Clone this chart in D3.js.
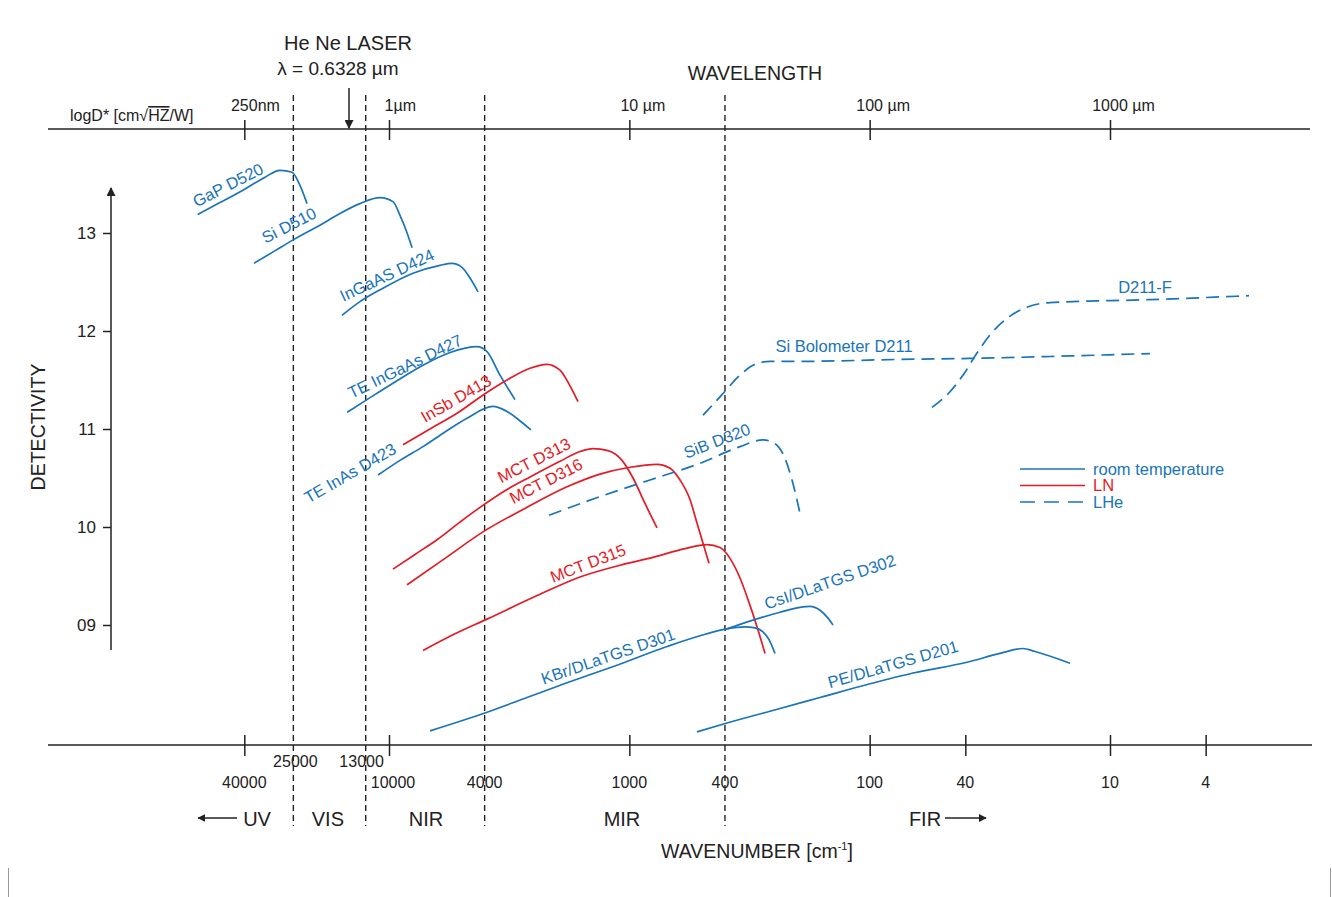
<!DOCTYPE html>
<html><head><meta charset="utf-8">
<script src="https://cdn.jsdelivr.net/npm/d3@7"></script>
<style>
body{margin:0;background:#fff}
svg{display:block}
text{font-family:"Liberation Sans",Arial,Helvetica,sans-serif}
</style>
</head><body>
<svg id="chart" width="1332" height="897"></svg>
<script>
// ---------- DATA ----------
// wavelength in µm, detectivity as log D*
const gapD520   = [[0.160,13.19],[0.198,13.31],[0.252,13.45],[0.305,13.57],[0.352,13.64],[0.395,13.62],[0.422,13.51],[0.456,13.30]];
const siD510    = [[0.274,12.69],[0.336,12.82],[0.406,12.94],[0.516,13.08],[0.625,13.20],[0.757,13.30],[0.917,13.36],[1.039,13.32],[1.111,13.18],[1.177,13.03],[1.247,12.85]];
const ingaasD424= [[0.637,12.16],[0.757,12.30],[0.917,12.42],[1.259,12.59],[1.630,12.67],[1.829,12.69],[2.012,12.65],[2.173,12.54],[2.346,12.40]];
const teIngaasD427=[[0.669,11.17],[0.810,11.30],[1.059,11.48],[1.385,11.65],[1.794,11.78],[2.323,11.84],[2.557,11.79],[2.896,11.55],[3.344,11.30]];
const insbD413  = [[1.144,10.84],[1.481,11.00],[1.918,11.16],[2.508,11.36],[3.097,11.50],[3.862,11.62],[4.544,11.66],[5.146,11.60],[5.664,11.44],[6.114,11.28]];
const teInasD423= [[0.900,10.53],[1.111,10.68],[1.385,10.82],[1.710,10.97],[2.111,11.11],[2.708,11.23],[3.039,11.19],[3.442,11.10],[3.898,10.99]];
const mctD313   = [[1.039,9.57],[1.283,9.72],[1.584,9.87],[1.974,10.05],[2.391,10.20],[3.039,10.37],[3.862,10.51],[5.146,10.67],[6.233,10.77],[7.063,10.80],[8.152,10.78],[9.322,10.68],[10.36,10.50],[11.62,10.24],[13.04,9.99]];
const mctD316   = [[1.188,9.41],[1.710,9.68],[2.461,9.95],[3.680,10.19],[5.504,10.41],[7.551,10.54],[10.07,10.61],[13.04,10.64],[14.77,10.60],[16.25,10.48],[17.88,10.28],[19.12,10.04],[21.46,9.63]];
const mctD315   = [[1.385,8.74],[1.882,8.91],[2.557,9.06],[4.051,9.29],[6.233,9.49],[9.146,9.61],[12.55,9.69],[17.05,9.78],[21.05,9.82],[23.84,9.79],[26.23,9.68],[28.87,9.48],[31.78,9.20],[34.31,8.95],[36.69,8.71]];
const sibD320   = [[4.632,10.12],[7.551,10.31],[12.19,10.48],[19.68,10.65],[28.87,10.82],[35.99,10.89],[40.37,10.85],[44.43,10.70],[47.52,10.48],[51.30,10.14]];
const kbrD301   = [[1.481,7.92],[2.557,8.11],[3.751,8.26],[5.504,8.41],[8.888,8.59],[14.35,8.78],[19.68,8.89],[25.49,8.96],[30.29,8.98],[33.34,8.97],[35.99,8.93],[38.12,8.85],[40.37,8.71]];
const csiD302   = [[25.49,8.96],[32.71,9.05],[42.36,9.13],[51.30,9.18],[56.45,9.19],[62.14,9.15],[67.08,9.07],[70.39,9.00]];
const peD201    = [[19.12,7.91],[25.49,8.00],[38.49,8.12],[62.14,8.26],[100.3,8.40],[151.5,8.51],[254.1,8.62],[348.5,8.71],[434.5,8.76],[487.5,8.73],[681.7,8.61]];
const siBoloD211= [[20.25,11.14],[24.30,11.35],[28.87,11.55],[33.34,11.66],[38.49,11.69],[51.30,11.69],[133.8,11.71],[261.5,11.72],[562.9,11.74],[1467,11.77]];
const d211F     = [[181.7,11.22],[215.9,11.38],[249.3,11.58],[277.0,11.76],[316.8,11.96],[372.8,12.13],[447.2,12.24],[562.9,12.29],[1467,12.32],[3788,12.36]];

const detectorNames = ["GaP D520","Si D510","InGaAS D424","TE InGaAs D427","InSb D413","TE InAs D423","MCT D313","MCT D316","MCT D315","SiB D320","KBr/DLaTGS D301","CsI/DLaTGS D302","PE/DLaTGS D201","Si Bolometer D211","D211-F"];
const detectorSeries = [gapD520,siD510,ingaasD424,teIngaasD427,insbD413,teInasD423,mctD313,mctD316,mctD315,sibD320,kbrD301,csiD302,peD201,siBoloD211,d211F];
const detectorCooling = ["room","room","room","room","LN","room","LN","LN","LN","LHe","room","room","room","LHe","LHe"];
// label anchors (wavelength µm, log D*) and rotation (deg)
const labelAnchors = [[0.2138,13.49],[0.3836,13.08],[0.981,12.57],[1.166,11.64],[1.900,11.31],[0.688,10.55],[4.012,10.68],[4.501,10.47],[6.73,9.63],[23.16,10.88],[8.152,8.68],[68.39,9.44],[125.1,8.60],[78.2,11.84],[1399,12.45]];
const labelAngles  = [-27,-27,-25,-26,-30,-30,-27,-27,-21,-21,-19,-19,-16,0,0];

const wlTickValues  = [0.25,1,10,100,1000];
const wlTickNumbers = ["250","1","10","100","1000"];
const wlTickUnits   = ["nm","µm"," µm"," µm"," µm"];
const wnTickValues  = [40000,10000,1000,100,40,10,4];
const wnLabelValues = [40000,25000,13000,10000,4000,1000,400,100,40,10,4];
const wnUpperRow    = [25000,13000];
const bandEdges     = [0.4,0.8,2.5,25];
const bandNames     = ["UV","VIS","NIR","MIR","FIR"];
const bandLabelWl   = [0.2825,0.557,1.426,9.32,169.9];
const detTicks      = [9,10,11,12,13];
const heNeWavelength = 0.6328;
const legendLabels  = ["room temperature","LN","LHe"];
const legendKeys    = ["room","LN","LHe"];

// ---------- STYLE ----------
const BLUE="#1a74ba", RED="#e41b25", INK="#222";
const colorOf = {room:BLUE, LN:RED, LHe:BLUE};
const dashOf  = {room:null, LN:null, LHe:"13,7"};

const svg = d3.select("#chart");
const x = d3.scaleLog().domain([1,1000]).range([389,1110]);
const y = d3.scaleLinear().domain([9,13]).range([625,233]);
const wn = v => 1e4 / v;   // wavenumber cm-1 -> wavelength µm
const yTop = 129, yBot = 745;

const defs = svg.append("defs");
defs.append("marker").attr("id","ah").attr("viewBox","0 0 10 10").attr("refX",9).attr("refY",5)
  .attr("markerWidth",8).attr("markerHeight",8).attr("markerUnits","userSpaceOnUse").attr("orient","auto")
  .append("path").attr("d","M0,0 L10,5 L0,10 z").attr("fill",INK);
defs.append("marker").attr("id","ahl").attr("viewBox","0 0 10 10").attr("refX",9).attr("refY",5)
  .attr("markerWidth",13).attr("markerHeight",9).attr("markerUnits","userSpaceOnUse").attr("orient","auto")
  .append("path").attr("d","M0,0 L10,5 L0,10 z").attr("fill",INK);

// frame fragments
svg.append("line").attr("x1",8.5).attr("x2",8.5).attr("y1",868).attr("y2",897).attr("stroke","#999").attr("stroke-width",1);
svg.append("line").attr("x1",1330.5).attr("x2",1330.5).attr("y1",868).attr("y2",897).attr("stroke","#999").attr("stroke-width",1);

// ---------- band boundaries ----------
svg.append("g").selectAll("line").data(bandEdges).join("line")
  .attr("x1",d=>x(d)).attr("x2",d=>x(d)).attr("y1",95).attr("y2",826)
  .attr("stroke",INK).attr("stroke-width",1.4).attr("stroke-dasharray","6,4");

// ---------- top axis (wavelength) ----------
svg.append("line").attr("x1",48).attr("x2",1310).attr("y1",yTop).attr("y2",yTop).attr("stroke",INK).attr("stroke-width",1.5);
const gTop = svg.append("g").attr("transform",`translate(0,${yTop})`)
  .call(d3.axisTop(x).tickValues(wlTickValues).tickFormat(()=>"").tickSizeOuter(0));
gTop.select(".domain").remove();
gTop.selectAll(".tick line").attr("y1",-9).attr("y2",11).attr("stroke",INK).attr("stroke-width",1.5);
wlTickValues.forEach((v,i)=>{
  const t = svg.append("text").attr("y",yTop-18).attr("font-size",16).attr("fill",INK);
  const n = t.append("tspan").text(wlTickNumbers[i]);
  t.append("tspan").text(wlTickUnits[i]);
  const w = n.node().getComputedTextLength();
  t.attr("x", x(v) - w/2);
});
svg.append("text").attr("x",755).attr("y",80).attr("text-anchor","middle").attr("font-size",19.5).attr("fill",INK).text("WAVELENGTH");
{
  const t = svg.append("text").attr("x",70).attr("y",121).attr("font-size",16).attr("fill",INK);
  t.append("tspan").text("logD* [cm\u221A");
  t.append("tspan").style("text-decoration","overline").text("HZ");
  t.append("tspan").text("/W]");
}

// He Ne laser annotation
const heNeX = 349;
svg.append("text").attr("x",heNeX-1).attr("y",50).attr("text-anchor","middle").attr("font-size",20).attr("fill",INK).text("He Ne LASER");
svg.append("text").attr("x",heNeX-11).attr("y",75).attr("text-anchor","middle").attr("font-size",19).attr("fill",INK)
  .text("\u03BB = " + heNeWavelength + " \u00B5m");
svg.append("line").attr("x1",heNeX).attr("x2",heNeX).attr("y1",88).attr("y2",128)
  .attr("stroke",INK).attr("stroke-width",1.5).attr("marker-end","url(#ahl)");

// ---------- bottom axis (wavenumber) ----------
svg.append("line").attr("x1",48).attr("x2",1312).attr("y1",yBot).attr("y2",yBot).attr("stroke",INK).attr("stroke-width",1.5);
const gBot = svg.append("g").attr("transform",`translate(0,${yBot})`)
  .call(d3.axisBottom(x).tickValues(wnTickValues.map(wn)).tickFormat(()=>"").tickSizeOuter(0));
gBot.select(".domain").remove();
gBot.selectAll(".tick line").attr("y1",-10).attr("y2",11).attr("stroke",INK).attr("stroke-width",1.5);
svg.append("g").selectAll("text").data(wnLabelValues).join("text")
  .attr("x",d=> x(wn(d)) + (d===10000?4:0) + (d===25000?2:0))
  .attr("y",d=> wnUpperRow.includes(d) ? 767 : 788)
  .attr("text-anchor","middle").attr("font-size",16).attr("fill",INK).text(d=>d);

// bands
svg.append("g").selectAll("text").data(bandNames).join("text")
  .attr("x",(d,i)=>x(bandLabelWl[i])).attr("y",826).attr("text-anchor","middle")
  .attr("font-size",20).attr("fill",INK).text(d=>d);
svg.append("line").attr("x1",x(bandLabelWl[0])-20).attr("x2",x(bandLabelWl[0])-59).attr("y1",818).attr("y2",818)
  .attr("stroke",INK).attr("stroke-width",1.5).attr("marker-end","url(#ah)");
svg.append("line").attr("x1",x(bandLabelWl[4])+20).attr("x2",x(bandLabelWl[4])+61).attr("y1",818).attr("y2",818)
  .attr("stroke",INK).attr("stroke-width",1.5).attr("marker-end","url(#ah)");

{
  const t = svg.append("text").attr("x",757).attr("y",858).attr("text-anchor","middle").attr("font-size",19.5).attr("fill",INK);
  t.append("tspan").text("WAVENUMBER [cm");
  t.append("tspan").attr("font-size",11).attr("dy",-8).text("-1");
  t.append("tspan").attr("dy",8).text("]");
}

// ---------- y axis ----------
const yAxisX = 111;
const gY = svg.append("g").attr("transform",`translate(${yAxisX},0)`)
  .call(d3.axisLeft(y).tickValues(detTicks).tickSize(8).tickPadding(7).tickFormat(d=> d<10 ? "0"+d : String(d)));
gY.select(".domain").remove();
gY.selectAll(".tick line").attr("stroke",INK).attr("stroke-width",1.5);
gY.selectAll(".tick text").attr("font-size",17).attr("fill",INK).attr("font-family","Liberation Sans, Arial, sans-serif");
svg.append("line").attr("x1",yAxisX).attr("x2",yAxisX).attr("y1",y(8.745)).attr("y2",188)
  .attr("stroke",INK).attr("stroke-width",1.5).attr("marker-end","url(#ahl)");
svg.append("text").attr("transform","translate(45,427) rotate(-90)").attr("text-anchor","middle")
  .attr("font-size",19.5).attr("fill",INK).text("DETECTIVITY");

// ---------- curves ----------
const line = d3.line().x(d=>x(d[0])).y(d=>y(d[1])).curve(d3.curveMonotoneX);
svg.append("g").selectAll("path").data(detectorSeries).join("path")
  .attr("d",line).attr("fill","none")
  .attr("stroke",(d,i)=>colorOf[detectorCooling[i]])
  .attr("stroke-width",1.7)
  .attr("stroke-dasharray",(d,i)=>dashOf[detectorCooling[i]]);

svg.append("g").selectAll("text").data(detectorNames).join("text")
  .attr("transform",(d,i)=>`translate(${x(labelAnchors[i][0])},${y(labelAnchors[i][1])}) rotate(${labelAngles[i]})`)
  .attr("text-anchor","middle").attr("dy","0.35em").attr("font-size",16.5)
  .attr("fill",(d,i)=>colorOf[detectorCooling[i]]).text(d=>d);

// ---------- legend ----------
const lg = svg.append("g").attr("transform","translate(1020,469)");
legendKeys.forEach((k,i)=>{
  lg.append("line").attr("x1",0).attr("x2",65).attr("y1",i*16.5).attr("y2",i*16.5)
    .attr("stroke",colorOf[k]).attr("stroke-width",1.7).attr("stroke-dasharray",k==="LHe"?"15,9":null);
  lg.append("text").attr("x",73).attr("y",i*16.5).attr("dy","0.35em").attr("font-size",16.5)
    .attr("fill",colorOf[k]).text(legendLabels[i]);
});
</script>
</body></html>
